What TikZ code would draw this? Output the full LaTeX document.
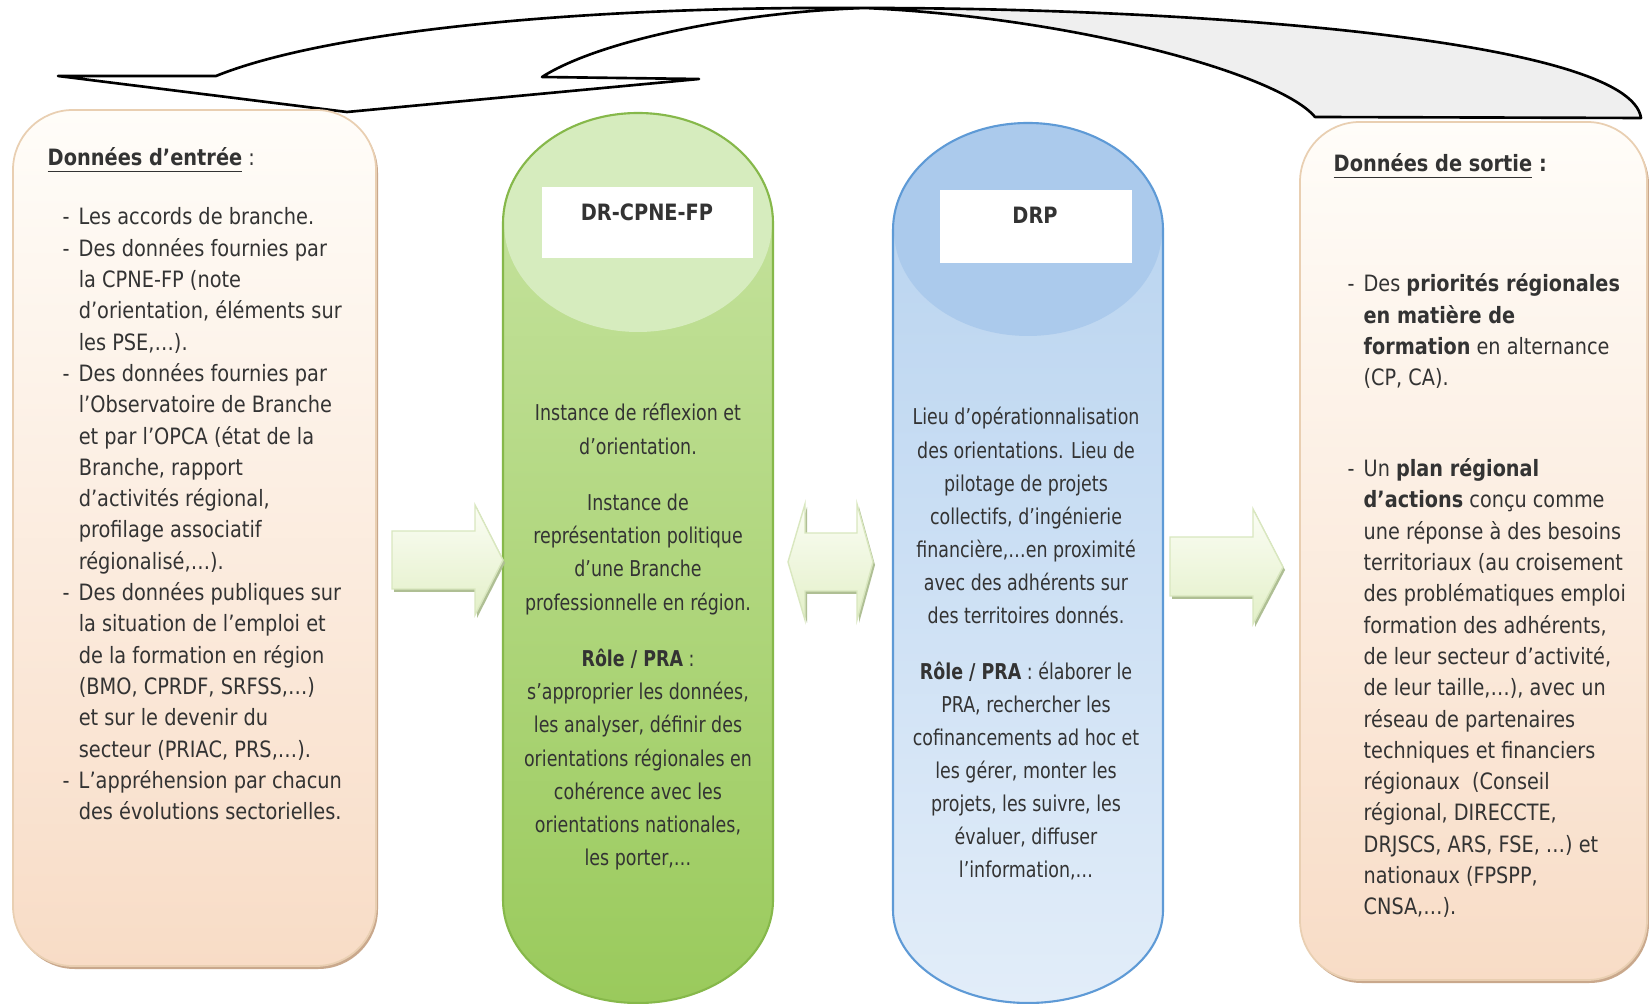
\documentclass[tikz,border=0pt]{standalone}
\usepackage{fontspec}
\usepackage{graphicx}
\setmainfont{DejaVu Sans}

\definecolor{txtgray}{HTML}{333333}
\definecolor{peachtop}{HTML}{FFFDF9}
\definecolor{peachbot}{HTML}{F8DCC6}
\definecolor{peachline}{HTML}{E9CFB2}
\definecolor{peachshadow}{HTML}{C9A88C}
\definecolor{greentop}{HTML}{C8E4A2}
\definecolor{greenbot}{HTML}{9ACA5C}
\definecolor{greencap}{HTML}{D6ECBE}
\definecolor{greenedge}{HTML}{86B84A}
\definecolor{bluetop}{HTML}{B6D2EF}
\definecolor{bluebot}{HTML}{E2EDF9}
\definecolor{bluecap}{HTML}{ABCAEC}
\definecolor{blueedge}{HTML}{5E9AD6}
\definecolor{arrowtop}{HTML}{FBFDF5}
\definecolor{arrowbot}{HTML}{E3F0C8}
\definecolor{arrowline}{HTML}{D9E7BF}
\definecolor{arrowshadow}{HTML}{AFBF94}
\definecolor{ribbongray}{HTML}{EFEFEF}

% narrower text, like the original font
\newcommand{\txtsqueeze}[2][0.86]{\scalebox{#1}[1]{#2}}

\begin{document}
\begin{tikzpicture}[x=0.01cm, y=-0.01cm,
  txt/.style={inner sep=0pt, text=txtgray, font=\fontsize{6.4}{8.9}\selectfont},
  ctxt/.style={inner sep=0pt, text=txtgray, font=\fontsize{6.2}{9.39}\selectfont},
  sidebox/.style={draw=peachline, line width=0.5pt, rounded corners=17pt,
    top color=peachtop, bottom color=peachbot},
  boxshadow/.style={fill=peachshadow, rounded corners=17pt},
  blockarrow/.style={draw=arrowline, line width=0.4pt, top color=arrowtop, bottom color=arrowbot},
  arrowshade/.style={fill=arrowshadow},
  ribbon/.style={draw=black, line width=0.75pt, line join=round}]
  \useasboundingbox (0,0) rectangle (1649,1004);
  \fill[white] (0,0) rectangle (1649,1004);

  % curved arrow on top
  \fill[white] (58,76) -- (216,76) .. controls (330,30) and (590,6) .. (865,8)
    .. controls (740,12) and (600,40) .. (542,77) -- (699,79) -- (347,112) -- cycle;
  \fill[ribbongray] (865,8) .. controls (1200,8) and (1630,40) .. (1641,118) -- (1315,117)
    .. controls (1280,75) and (1080,18) .. (865,8) -- cycle;
  \draw[ribbon] (58,76) -- (216,76) .. controls (330,30) and (590,6) .. (865,8)
    .. controls (1200,8) and (1630,40) .. (1641,118) -- (1315,117)
    .. controls (1280,75) and (1080,18) .. (865,8)
    .. controls (740,12) and (600,40) .. (542,77) -- (699,79) -- (347,112) -- cycle;

  % side boxes
  \fill[boxshadow] (15,113) rectangle (378,969);
  \draw[sidebox] (13,110) rectangle (376,966);
  \fill[boxshadow] (1302,125) rectangle (1649,983);
  \draw[sidebox] (1300,122) rectangle (1647,980);

  % green cylinder
  \fill[top color=greentop, bottom color=greenbot] (503,223) -- (503,900)
    arc[start angle=180, end angle=0, x radius=135, y radius=103] -- (773,223)
    arc[start angle=0, end angle=-180, x radius=135, y radius=110] -- cycle;
  \fill[greencap] (638,223) ellipse[x radius=134, y radius=109];
  \draw[greenedge, line width=0.6pt] (503,223) -- (503,900)
    arc[start angle=180, end angle=0, x radius=135, y radius=103] -- (773,223)
    arc[start angle=0, end angle=-180, x radius=135, y radius=110] -- cycle;
  \fill[white] (542,187) rectangle (753,258);

  % blue cylinder
  \fill[top color=bluetop, bottom color=bluebot] (893,230) -- (893,910)
    arc[start angle=180, end angle=0, x radius=135, y radius=93] -- (1163,230)
    arc[start angle=0, end angle=-180, x radius=135, y radius=107] -- cycle;
  \fill[bluecap] (1028,230) ellipse[x radius=134, y radius=106];
  \draw[blueedge, line width=0.6pt] (893,230) -- (893,910)
    arc[start angle=180, end angle=0, x radius=135, y radius=93] -- (1163,230)
    arc[start angle=0, end angle=-180, x radius=135, y radius=107] -- cycle;
  \fill[white] (940,190) rectangle (1132,263);

  % block arrows
  \fill[arrowshade] (394,534) -- (477,534) -- (477,508) -- (505,563) -- (477,618) -- (477,592) -- (394,592) -- cycle;
  \draw[blockarrow] (392,531) -- (475,531) -- (475,505) -- (503,560) -- (475,615) -- (475,589) -- (392,589) -- cycle;
  \fill[arrowshade] (790,565) -- (807,507) -- (807,536) -- (859,536) -- (859,507) -- (875,565)
    -- (859,623) -- (859,594) -- (807,594) -- (807,623) -- cycle;
  \draw[blockarrow] (788,562) -- (805,504) -- (805,533) -- (857,533) -- (857,504) -- (873,562)
    -- (857,620) -- (857,591) -- (805,591) -- (805,620) -- cycle;
  \fill[arrowshade] (1172,540) -- (1255,540) -- (1255,512) -- (1285,570) -- (1255,627) -- (1255,599) -- (1172,599) -- cycle;
  \draw[blockarrow] (1170,537) -- (1253,537) -- (1253,509) -- (1283,567) -- (1253,624) -- (1253,596) -- (1170,596) -- cycle;

  % texts
  \node[txt, anchor=base west] (inhead) at (47,166)
    {\txtsqueeze{\textbf{\underline{Données d’entrée}} :}};
  \node[txt, anchor=base west] (inlist) at (62,225) {\txtsqueeze{%
    \begin{tabular}[t]{@{}l@{\hspace{3pt}}l@{}}
    - & Les accords de branche.\\
    - & Des données fournies par\\
      & la CPNE-FP (note\\
      & d’orientation, éléments sur\\
      & les PSE,…).\\
    - & Des données fournies par\\
      & l’Observatoire de Branche\\
      & et par l’OPCA (état de la\\
      & Branche, rapport\\
      & d’activités régional,\\
      & profilage associatif\\
      & régionalisé,…).\\
    - & Des données publiques sur\\
      & la situation de l’emploi et\\
      & de la formation en région\\
      & (BMO, CPRDF, SRFSS,…)\\
      & et sur le devenir du\\
      & secteur (PRIAC, PRS,…).\\
    - & L’appréhension par chacun\\
      & des évolutions sectorielles.
    \end{tabular}}};

  \node[txt, anchor=base, font=\fontsize{6.4}{8.9}\selectfont\bfseries] (drcpne) at (647,221)
    {\txtsqueeze{DR-CPNE-FP}};
  \node[ctxt, anchor=base] (drtext) at (638,421) {\txtsqueeze[0.80]{%
    \begin{tabular}[t]{@{}c@{}}
    Instance de réflexion et\\
    d’orientation.\\[6.8pt]
    Instance de\\
    représentation politique\\
    d’une Branche\\
    professionnelle en région.\\[6.8pt]
    \textbf{Rôle / PRA} :\\
    s’approprier les données,\\
    les analyser, définir des\\
    orientations régionales en\\
    cohérence avec les\\
    orientations nationales,\\
    les porter,…
    \end{tabular}}};

  \node[txt, anchor=base, font=\fontsize{6.4}{8.9}\selectfont\bfseries] (drp) at (1035,224)
    {\txtsqueeze{DRP}};
  \node[ctxt, anchor=base] (drptext) at (1026,425) {\txtsqueeze[0.80]{%
    \begin{tabular}[t]{@{}c@{}}
    Lieu d’opérationnalisation\\
    des orientations. Lieu de\\
    pilotage de projets\\
    collectifs, d’ingénierie\\
    financière,…en proximité\\
    avec des adhérents sur\\
    des territoires donnés.\\[6.5pt]
    \textbf{Rôle / PRA} : élaborer le\\
    PRA, rechercher les\\
    cofinancements ad hoc et\\
    les gérer, monter les\\
    projets, les suivre, les\\
    évaluer, diffuser\\
    l’information,…
    \end{tabular}}};

  \node[txt, anchor=base west] (outhead) at (1333,172)
    {\txtsqueeze{\textbf{\underline{Données de sortie} :}}};
  \node[txt, anchor=base west] (outlist) at (1347,292) {\txtsqueeze[0.855]{%
    \begin{tabular}[t]{@{}l@{\hspace{3pt}}l@{}}
    - & Des \textbf{priorités régionales}\\
      & \textbf{en matière de}\\
      & \textbf{formation} en alternance\\
      & (CP, CA).\\[16.9pt]
    - & Un \textbf{plan régional}\\
      & \textbf{d’actions} conçu comme\\
      & une réponse à des besoins\\
      & territoriaux (au croisement\\
      & des problématiques emploi\\
      & formation des adhérents,\\
      & de leur secteur d’activité,\\
      & de leur taille,…), avec un\\
      & réseau de partenaires\\
      & techniques et financiers\\
      & régionaux~ (Conseil\\
      & régional, DIRECCTE,\\
      & DRJSCS, ARS, FSE, …) et\\
      & nationaux (FPSPP,\\
      & CNSA,…).
    \end{tabular}}};
\end{tikzpicture}
\end{document}
